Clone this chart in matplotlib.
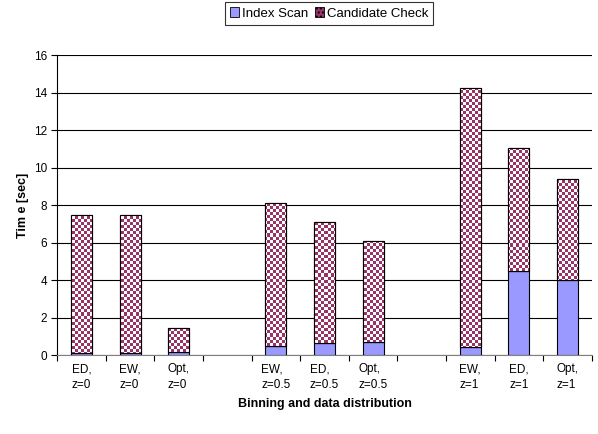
import numpy as np
import matplotlib
matplotlib.use("Agg")
import matplotlib.pyplot as plt
from matplotlib.patches import Patch
from matplotlib.colors import ListedColormap

plt.rcParams['font.family'] = ['Liberation Sans', 'DejaVu Sans']

labels = ['ED,\nz=0', 'EW,\nz=0', 'Opt,\nz=0', '',
          'EW,\nz=0.5', 'ED,\nz=0.5', 'Opt,\nz=0.5', '',
          'EW,\nz=1', 'ED,\nz=1', 'Opt,\nz=1']
index_scan = [0.10, 0.10, 0.15, 0, 0.46, 0.64, 0.68, 0, 0.44, 4.48, 3.98]
total_time = [7.47, 7.47, 1.42, 0, 8.09, 7.07, 6.08, 0, 14.24, 11.06, 9.39]
candidate_check = [t - s for t, s in zip(total_time, index_scan)]

blue = '#9999ff'
maroon = '#993366'

fig = plt.figure(figsize=(5.98, 4.34), dpi=100)
ax = fig.add_axes([0.0958, 0.182, 0.8937, 0.691])

x = np.arange(len(labels))
w = 0.43
shown = [i for i, t in enumerate(total_time) if t > 0]
xs = [x[i] for i in shown]
b1 = ax.bar(xs, [index_scan[i] for i in shown], w, color=blue,
            edgecolor='black', linewidth=0.8, zorder=3)
b2 = ax.bar(xs, [candidate_check[i] for i in shown], w,
            bottom=[index_scan[i] for i in shown], color='white',
            edgecolor='black', linewidth=0.8, zorder=3)

ax.set_xlim(-0.5, len(labels) - 0.5)
ax.set_ylim(0, 16)

# checkered fill for the candidate check segments, 3px cells
fig.canvas.draw()
bb = ax.get_window_extent()
nx, ny = int(bb.width), int(bb.height)
yy, xx = np.mgrid[0:ny, 0:nx]
checks = ((xx // 3 + yy // 3) % 2).astype(float)
cmap = ListedColormap(['white', maroon])
for bar in b2:
    im = ax.imshow(checks, cmap=cmap, extent=(-0.5, len(labels) - 0.5, 0, 16),
                   aspect='auto', interpolation='nearest', zorder=3.5,
                   origin='lower')
    im.set_clip_path(bar)
for bar in b2:
    r = plt.Rectangle(bar.get_xy(), bar.get_width(), bar.get_height(),
                      fill=False, edgecolor='black', linewidth=0.8, zorder=4)
    ax.add_patch(r)
ax.set_xlim(-0.5, len(labels) - 0.5)
ax.set_ylim(0, 16)

ax.set_yticks(np.arange(0, 17, 2))
ax.yaxis.grid(True, color='black', linewidth=0.8)
ax.set_axisbelow(True)
ax.set_xticks(np.arange(-0.5, len(labels), 1))
ax.set_xticklabels([])
ax.set_xticks(x, labels, minor=True)
for t in ax.get_xticklabels(minor=True):
    t.set_linespacing(1.45)
    t.set_multialignment('left')
ax.tick_params(axis='x', which='minor', length=0, pad=6, labelsize=8.5)
ax.tick_params(axis='x', which='major', length=4, direction='out', width=0.8)
ax.tick_params(axis='y', length=4, width=0.8, labelsize=8.5)
for sp in ['top', 'right']:
    ax.spines[sp].set_visible(False)
ax.spines['left'].set_linewidth(0.8)
ax.spines['bottom'].set_linewidth(0.8)
ax.spines['bottom'].set_color('#808080')

ax.set_ylabel('Tim e [sec]', fontsize=9, fontweight='bold', labelpad=3)
ax.set_xlabel('Binning and data distribution', fontsize=9, fontweight='bold',
              labelpad=5)

handles = [Patch(facecolor=blue, edgecolor='black', linewidth=0.6),
           Patch(facecolor=maroon, edgecolor='black', linewidth=0.6,
                 hatch='....')]
leg = fig.legend(handles, ['Index Scan', 'Candidate Check'],
                 loc='upper center', bbox_to_anchor=(0.550, 0.995), ncol=2,
                 frameon=True, fancybox=False, fontsize=9.5,
                 handlelength=0.7, handleheight=0.7, handletextpad=0.2,
                 columnspacing=0.5, borderpad=0.4, borderaxespad=0)
leg.get_frame().set_edgecolor('black')
leg.get_frame().set_linewidth(0.8)

fig.savefig('out.png', dpi=100)
